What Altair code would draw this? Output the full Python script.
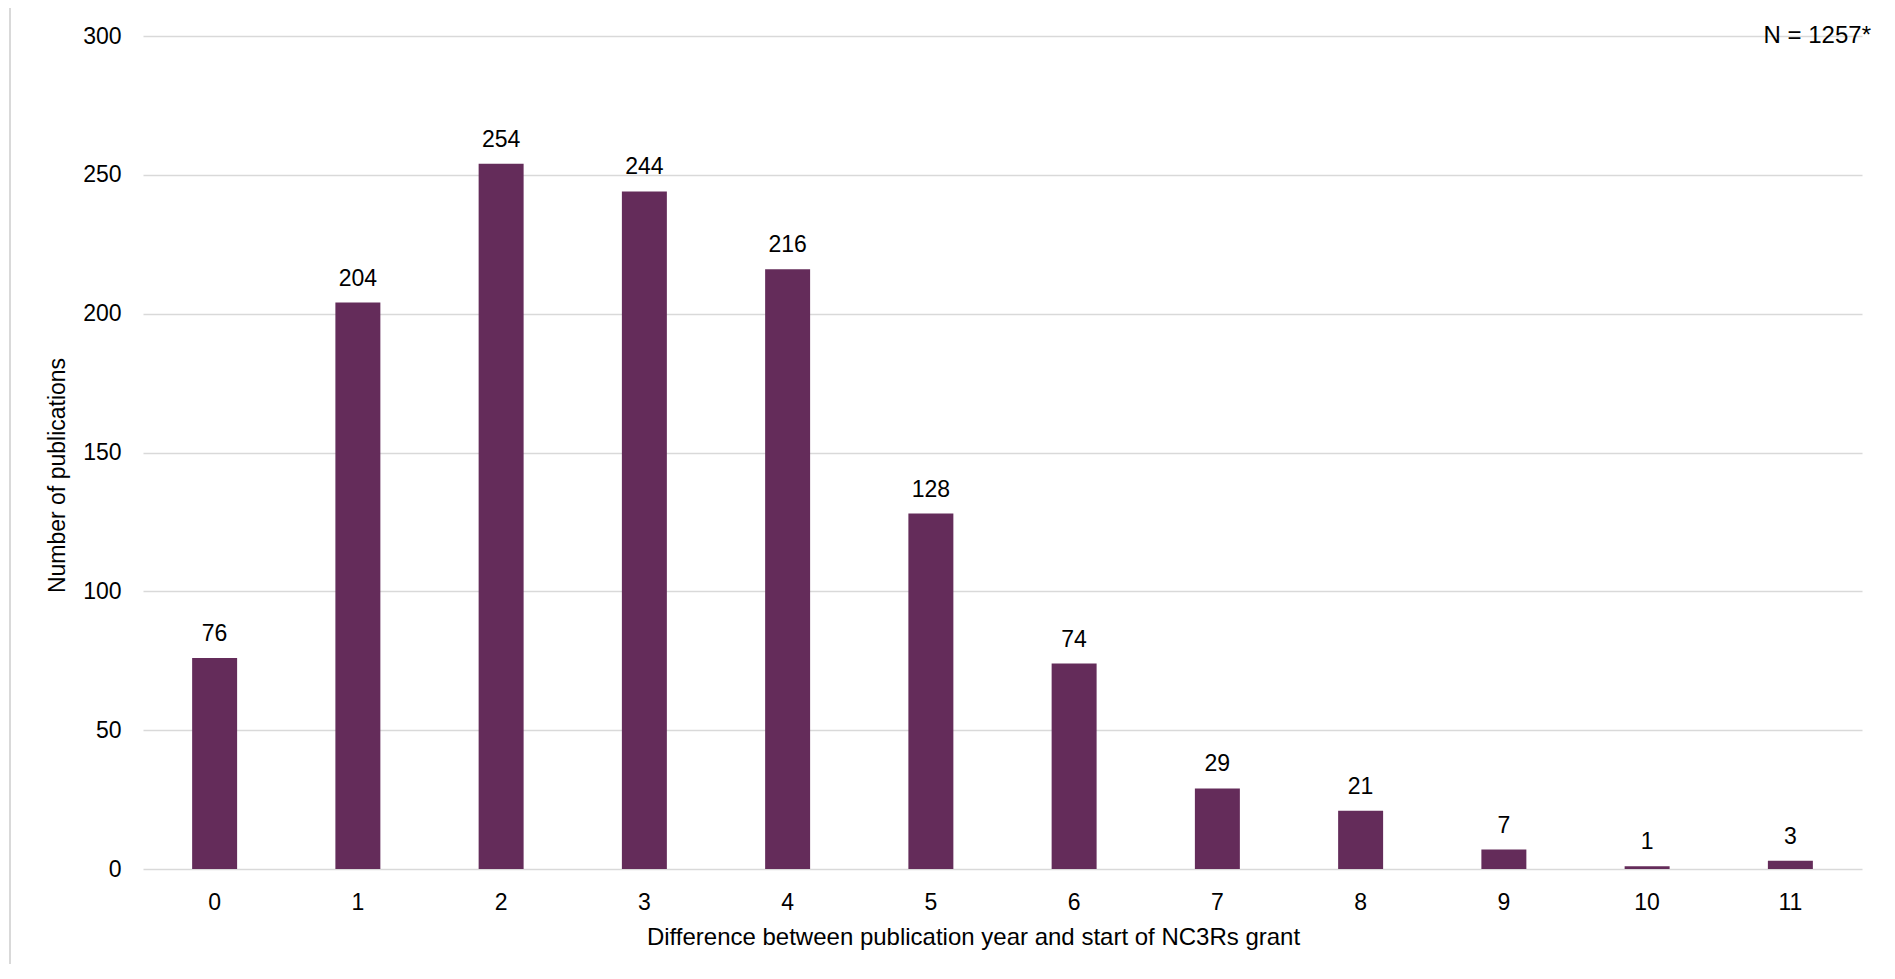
import altair as alt
import pandas as pd

years = ["0", "1", "2", "3", "4", "5", "6", "7", "8", "9", "10", "11"]
counts = [76, 204, 254, 244, 216, 128, 74, 29, 21, 7, 1, 3]
y_ticks = [0, 50, 100, 150, 200, 250, 300]
note_text = ["N = 1257*"]

df = pd.DataFrame({"year": years, "count": counts})

FONT = "Liberation Sans"
BAR = "#642C5A"
GRID = "#D9D9D9"

x_enc = alt.X(
    "year:N",
    sort=years,
    scale=alt.Scale(paddingInner=0.686, paddingOuter=0.343),
    axis=alt.Axis(
        title="Difference between publication year and start of NC3Rs grant",
        labelAngle=0,
        labelFontSize=23,
        labelColor="#000000",
        labelPadding=22,
        ticks=False,
        domain=False,
        grid=False,
        titleFontSize=24,
        titleFontWeight="normal",
        titleColor="#000000",
        titlePadding=11,
        titleX=830,
    ),
)
y_enc = alt.Y(
    "count:Q",
    scale=alt.Scale(domain=[0, 300], nice=False),
    axis=alt.Axis(
        title="Number of publications",
        values=y_ticks,
        labelFontSize=23,
        labelColor="#000000",
        labelPadding=22,
        ticks=False,
        domain=False,
        grid=True,
        gridColor=GRID,
        gridWidth=1.5,
        titleFontSize=23,
        titleFontWeight="normal",
        titleColor="#000000",
        titlePadding=13,
        titleY=439,
    ),
)

bars = alt.Chart(df).mark_bar(color=BAR).encode(x=x_enc, y=y_enc)

labels = alt.Chart(df).mark_text(
    fontSize=23, font=FONT, color="#000000", baseline="alphabetic", dy=-17
).encode(x=alt.X("year:N", sort=years), y="count:Q", text="count:Q")

note = alt.Chart(pd.DataFrame({"t": note_text})).mark_text(
    fontSize=24, font=FONT, color="#000000", align="right", baseline="middle"
).encode(x=alt.value(1728), y=alt.value(0), text="t:N")

frame = alt.Chart(pd.DataFrame({"t": note_text})).mark_rect(
    fill=None, stroke=GRID, strokeWidth=2
).encode(x=alt.value(-133), x2=alt.value(1747), y=alt.value(-29), y2=alt.value(940))

chart = alt.layer(frame, bars, labels, note).properties(
    width=1719,
    height=833,
    autosize=alt.AutoSizeParams(type="none"),
    padding={"left": 135, "top": 28, "right": 20, "bottom": 95},
).configure(font=FONT).configure_view(stroke=None)

chart.save("out.html", embed_options={"renderer": "svg", "actions": False})
